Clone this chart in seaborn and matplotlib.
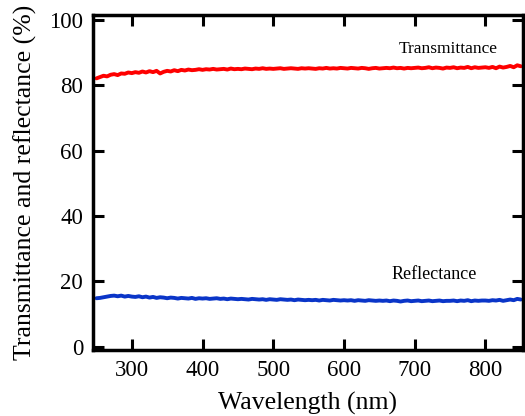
# Transmittance / reflectance spectra

import numpy as np
import pandas as pd
import matplotlib
matplotlib.use("Agg")
import matplotlib.pyplot as plt
import seaborn as sns

# ----------------------------------------------------------
# data (5 nm steps)
# ----------------------------------------------------------
wavelength = np.arange(250, 851, 5)

transmittance = [
    82.1, 82.5, 82.9, 82.7, 83.2, 83.4, 83.1, 83.6, 83.5, 83.9,
    83.7, 84.0, 83.8, 84.2, 83.9, 84.3, 84.0, 84.4, 83.6, 84.1,
    84.4, 84.2, 84.6, 84.3, 84.7, 84.5, 84.8, 84.6, 84.7, 84.9,
    84.7, 84.9, 84.8, 85.0, 84.8, 84.9, 85.0, 84.8, 85.1, 84.9,
    85.0, 84.9, 85.1, 85.0, 84.9, 85.1, 85.0, 85.2, 85.0, 85.1,
    85.0, 85.1, 85.2, 85.0, 85.1, 85.2, 85.1, 85.0, 85.2, 85.1,
    85.2, 85.1, 85.0, 85.2, 85.1, 85.3, 85.1, 85.2, 85.1, 85.3,
    85.2, 85.1, 85.3, 85.2, 85.1, 85.3, 85.2, 85.0, 85.2, 85.3,
    85.1, 85.2, 85.3, 85.2, 85.4, 85.2, 85.3, 85.1, 85.3, 85.2,
    85.3, 85.4, 85.2, 85.3, 85.5, 85.2, 85.4, 85.3, 85.1, 85.4,
    85.3, 85.5, 85.2, 85.4, 85.3, 85.6, 85.2, 85.5, 85.3, 85.4,
    85.5, 85.3, 85.6, 85.2, 85.7, 85.4, 85.6, 85.9, 85.5, 86.1,
    85.8,
]

reflectance = [
    14.8, 14.9, 15.1, 15.3, 15.5, 15.6, 15.4, 15.6, 15.3, 15.5,
    15.3, 15.2, 15.4, 15.1, 15.3, 15.0, 15.2, 14.9, 15.1, 15.0,
    14.8, 15.0, 14.9, 14.7, 14.9, 14.8, 14.7, 14.9, 14.6, 14.8,
    14.7, 14.8, 14.6, 14.7, 14.8, 14.6, 14.7, 14.5, 14.7, 14.6,
    14.5, 14.6, 14.5, 14.4, 14.6, 14.5, 14.4, 14.5, 14.3, 14.5,
    14.4, 14.3, 14.5, 14.4, 14.3, 14.4, 14.2, 14.4, 14.3, 14.2,
    14.3, 14.2, 14.3, 14.1, 14.3, 14.2, 14.1, 14.3, 14.2, 14.1,
    14.2, 14.1, 14.2, 14.0, 14.2, 14.1, 14.0, 14.2, 14.1, 14.0,
    14.1, 14.0, 14.1, 13.9, 14.1, 14.0, 13.8, 14.0, 14.1, 13.9,
    14.0, 14.1, 13.9, 14.0, 14.1, 13.9, 14.0, 14.1, 13.9, 14.0,
    14.0, 14.1, 13.9, 14.1, 14.0, 14.2, 13.9, 14.1, 14.0, 14.1,
    14.1, 14.0, 14.2, 14.1, 14.3, 14.0, 14.2, 14.4, 14.2, 14.6,
    14.4,
]

x_ticks = [300, 400, 500, 600, 700, 800]
y_ticks = [0, 20, 40, 60, 80, 100]

df = pd.DataFrame({
    "wavelength": wavelength,
    "T": transmittance,
    "R": reflectance,
})

# ----------------------------------------------------------
# style
# ----------------------------------------------------------
sns.set_style("ticks")
plt.rcParams["font.family"] = ["Liberation Serif", "DejaVu Serif"]
plt.rcParams["text.color"] = "black"
plt.rcParams["axes.labelcolor"] = "black"

fig = plt.figure(figsize=(5.25, 4.16), dpi=100)
ax = fig.add_axes([0.177, 0.159, 0.819, 0.805])

sns.lineplot(data=df, x="wavelength", y="T", ax=ax,
             color="#fe0000", linewidth=2.8)
sns.lineplot(data=df, x="wavelength", y="R", ax=ax,
             color="#0a35c8", linewidth=2.8)

ax.set_xlim(245, 853)
ax.set_ylim(-1, 101.5)
ax.set_xticks(x_ticks)
ax.set_yticks(y_ticks)

ax.set_xlabel("Wavelength (nm)", fontsize=18.5, labelpad=8, color="black")
ax.set_ylabel("Transmittance and reflectance (%)", fontsize=18.5,
              labelpad=9, color="black")

ax.tick_params(direction="in", length=8, width=2.2, labelsize=16.5,
               top=True, right=True, pad=7, colors="black")

for side in ["left", "right", "top", "bottom"]:
    ax.spines[side].set_visible(True)
    ax.spines[side].set_linewidth(2.5)
    ax.spines[side].set_color("black")

ax.text(747, 91, "Transmittance", fontsize=12.5, ha="center", va="center",
        color="black")
ax.text(727, 22, "Reflectance", fontsize=13, ha="center", va="center",
        color="black")

fig.savefig("out.png", dpi=100)
